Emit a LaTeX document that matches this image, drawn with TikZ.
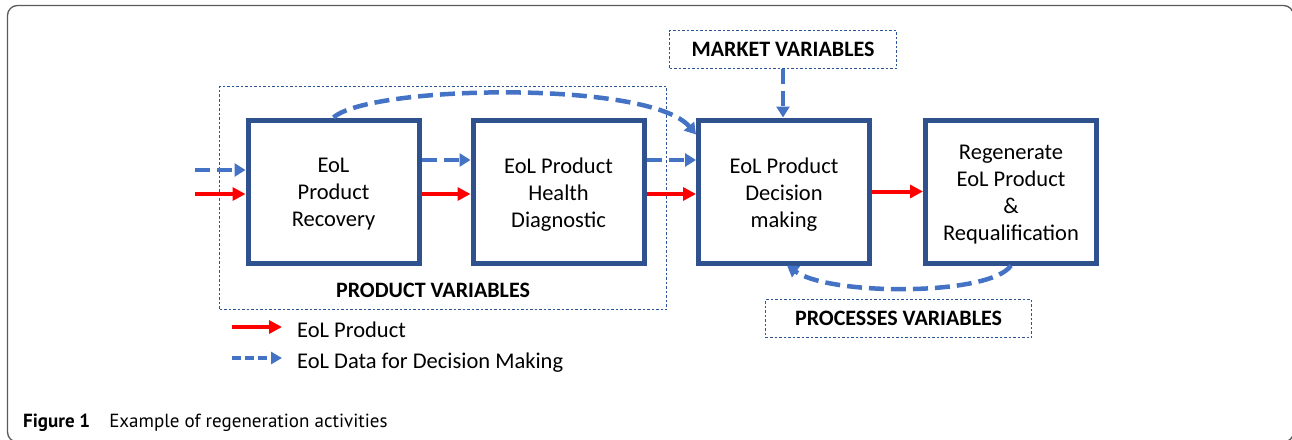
\documentclass[tikz,border=0pt]{standalone}
\usepackage{fontspec}
\setmainfont{Carlito}
\newfontfamily\capfont{PT Sans}
\usetikzlibrary{arrows.meta}
\definecolor{boxblue}{RGB}{47,82,143}
\definecolor{dashblue}{RGB}{68,114,196}
\definecolor{dotblue}{RGB}{47,85,151}
\definecolor{framegray}{RGB}{90,90,90}
\begin{document}
\begin{tikzpicture}[x=1pt,y=-1pt,
  stepbox/.style={draw=boxblue, fill=white, line width=5pt, minimum width=171pt, minimum height=143pt, inner sep=0pt},
  steptext/.style={align=center, font=\fontsize{22.5}{27}\selectfont, inner sep=0pt},
  varbox/.style={draw=dotblue, line width=1.4pt, dash pattern=on 2.5pt off 2pt, inner sep=0pt, font=\bfseries\fontsize{22}{27}\selectfont},
  boldlabel/.style={inner sep=0pt, font=\bfseries\fontsize{22}{27}\selectfont},
  redarrow/.style={draw=red, line width=4pt, -{Triangle[length=13pt,width=13pt]}},
  bluearrow/.style={draw=dashblue, line width=4.5pt, dash pattern=on 15pt off 7pt, -{Triangle[length=11pt,width=13pt]}},
  legblue/.style={draw=dashblue, line width=4pt, dash pattern=on 9pt off 4pt, -{Triangle[length=11pt,width=12pt]}},
  legtext/.style={anchor=base west, inner sep=0pt, font=\fontsize{22.5}{27}\selectfont},
]
\useasboundingbox (0,0) rectangle (1292,439);
\clip (0,0) rectangle (1292,439);
\draw[framegray, line width=1.3pt, rounded corners=10pt] (7.5,5.5) rectangle (1293.5,442);

% product variables group
\node[varbox, minimum width=447pt, minimum height=223pt] (pv) at (443,198) {};
\node[boldlabel] (pvl) at (433,290) {PRODUCT VARIABLES};

% boxes
\node[stepbox] (b1) at (333.5,191.5) {};
\node[stepbox] (b2) at (558.5,191.5) {};
\node[stepbox] (b3) at (784,191.5) {};
\node[stepbox] (b4) at (1011,191.5) {};
\node[steptext] (t1) at ([yshift=-3pt]b1.center) {EoL\\Product\\Recovery};
\node[steptext] (t2) at ([yshift=-3pt]b2.center) {EoL Product\\Health\\Diagnostic};
\node[steptext] (t3) at ([yshift=-3pt]b3.center) {EoL Product\\Decision\\making};
\node[steptext] (t4) at ([yshift=-3pt]b4.center) {Regenerate\\EoL Product\\\&\\Requalification};

% variable boxes
\node[varbox, minimum width=227pt, minimum height=38pt] (mv) at (783,49.5) {MARKET VARIABLES};
\node[varbox, minimum width=266pt, minimum height=38pt] (prv) at (898.5,318.5) {PROCESSES VARIABLES};

% incoming
\coordinate (inR) at (195,194);
\coordinate (inB) at (195,170);
\draw[redarrow] (inR) -- (inR -| b1.west);
\draw[bluearrow] (inB) -- (inB -| b1.west);

% red flow
\draw[redarrow] ([yshift=-2.5pt]b1.east) -- ([yshift=-2.5pt]b2.west);
\draw[redarrow] ([yshift=-2.5pt]b2.east) -- ([yshift=-2.5pt]b3.west);
\draw[redarrow] (b3.east) -- (b4.west);

% data flow
\draw[bluearrow] ([yshift=31.5pt]b1.east) -- ([yshift=31.5pt]b2.west);
\draw[bluearrow] ([yshift=31.5pt]b2.east) -- ([yshift=31.5pt]b3.west);
\draw[bluearrow] (b1.north) .. controls (370,85) and (650,80) .. ([yshift=-17pt]b3.north west);
\draw[bluearrow] (mv.south) -- (mv.south |- b3.north);
\draw[bluearrow] (b4.south) .. controls (990,296) and (830,296) .. ([xshift=3pt]b3.south);

% legend
\coordinate (lr1) at (232,327);
\coordinate (lr2) at (282,327);
\coordinate (lb1) at (232,358);
\coordinate (lb2) at (282,358);
\draw[redarrow] (lr1) -- (lr2);
\draw[legblue] (lb1) -- (lb2);
\node[legtext] (lt1) at (297,337) {EoL Product};
\node[legtext] (lt2) at (297,368) {EoL Data for Decision Making};

% caption
\node[anchor=base west, inner sep=0pt, font=\capfont\fontsize{19}{22}\selectfont] (cap) at (23,427) {\textbf{Figure 1}\quad Example of regeneration activities};
\end{tikzpicture}
\end{document}
